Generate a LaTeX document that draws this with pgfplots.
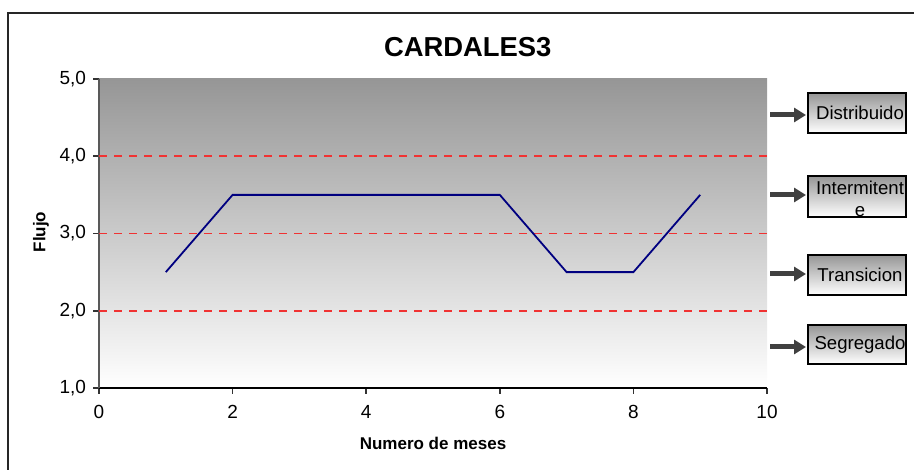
\documentclass[border=0pt]{standalone}
\usepackage{pgfplots}
\pgfplotsset{compat=1.18}
\usepackage{fontspec}
\setmainfont{Liberation Sans}
\usetikzlibrary{arrows.meta}
\definecolor{topgray}{RGB}{150,150,150}
\definecolor{dashred}{RGB}{240,50,50}
\definecolor{navyline}{RGB}{0,0,128}
\definecolor{arrowgray}{RGB}{64,64,64}
\begin{document}
\begin{tikzpicture}[x=0.5pt,y=0.5pt]
\path[use as bounding box] (0,0) rectangle (914,470);
\draw[line width=1pt, black!85] (8,0) -- (8,457) -- (914,457);
\begin{axis}[
  at={(49.5pt,41pt)}, anchor=south west,
  scale only axis, width=334pt, height=154.5pt,
  xmin=0, xmax=10, ymin=1, ymax=5,
  xtick={0,2,4,6,8,10}, ytick={1,2,3,4,5},
  axis x line*=bottom, axis y line*=left,
  x axis line style={black, line width=1pt},
  y axis line style={black!65, line width=1pt},
  tick align=outside, major tick length=3pt,
  tick style={black!80, line width=0.8pt},
  /pgf/number format/assume math mode=true,
  tick label style={font=\fontsize{9.5}{11}\selectfont},
  x tick label style={yshift=-2pt},
  y tick label style={/pgf/number format/fixed, /pgf/number format/fixed zerofill, /pgf/number format/precision=1, /pgf/number format/use comma},
  axis background/.style={top color=topgray, bottom color=white},
  title={CARDALES3},
  title style={at={(axis description cs:0.552,1)}, anchor=center, yshift=10pt, font=\bfseries\fontsize{13.7}{15}\selectfont},
  xlabel={Numero de meses},
  xlabel style={at={(axis description cs:0.5,0)}, anchor=center, yshift=-27.5pt, font=\bfseries\fontsize{8.5}{10}\selectfont},
  clip=false,
]
\addplot[dashred, line width=0.8pt, dash pattern=on 4pt off 3.5pt] coordinates {(0,4) (10,4)};
\addplot[dashred, line width=0.8pt, dash pattern=on 4pt off 3.5pt] coordinates {(0,3) (10,3)};
\addplot[dashred, line width=0.8pt, dash pattern=on 4pt off 3.5pt] coordinates {(0,2) (10,2)};
\addplot[navyline, line width=0.9pt] coordinates {(1,2.5) (2,3.5) (3,3.5) (4,3.5) (5,3.5) (6,3.5) (7,2.5) (8,2.5) (9,3.5)};
\end{axis}
\node[rotate=90, font=\bfseries\fontsize{8.5}{10}\selectfont] at (41,470-232) {Flujo};
% side labels
\foreach \yt/\yb/\ya/\lab in {93/133/115/Distribuido, 255/295/274/Transicion, 325/364/347/Segregado}{
  \draw[black, line width=0.7pt, top color=topgray, bottom color=white] (808,470-\yt) rectangle (906,470-\yb);
  \node[font=\fontsize{9.3}{10}\selectfont] at (860,470-\yt/2-\yb/2) {\lab};
  \draw[arrowgray, line width=2.5pt, -{Triangle[length=6pt,width=7pt]}] (770,470-\ya) -- (806,470-\ya);
}
\draw[black, line width=0.7pt, top color=topgray, bottom color=white] (808,470-176) rectangle (906,470-217);
\begin{scope}
\clip (808,470-176) rectangle (906,470-217);
\node[font=\fontsize{9.3}{10}\selectfont] at (860,470-188) {Intermitent};
\node[font=\fontsize{9.3}{10}\selectfont] at (860,470-212) {e};
\end{scope}
\draw[black, line width=0.7pt] (808,470-176) rectangle (906,470-217);
\draw[arrowgray, line width=2.5pt, -{Triangle[length=6pt,width=7pt]}] (770,470-195) -- (806,470-195);
\end{tikzpicture}
\end{document}
